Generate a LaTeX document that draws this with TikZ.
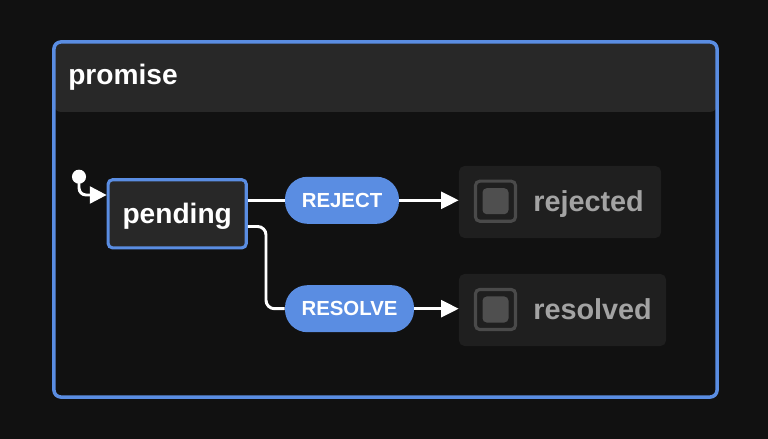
\documentclass[tikz,border=0pt]{standalone}
\usepackage{fontspec}
\setmainfont{Liberation Sans}
\usetikzlibrary{arrows.meta}
\definecolor{bgdark}{HTML}{111111}
\definecolor{xblue}{HTML}{5A8DE2}
\definecolor{hdrgray}{HTML}{282828}
\definecolor{stategray}{HTML}{1F1F1F}
\definecolor{icongray}{HTML}{4A4A4A}
\definecolor{iconfill}{HTML}{4F4F4F}
\definecolor{textgray}{HTML}{A3A3A3}

\begin{document}
\begin{tikzpicture}[x=0.025cm,y=-0.025cm,
  machine/.style={draw=xblue,line width=2.5pt,rounded corners=5pt,fill=bgdark,
    minimum width=16.575cm,minimum height=8.875cm,inner sep=0pt,
    path picture={\fill[hdrgray] (path picture bounding box.north west) rectangle ([yshift=-1.75cm]path picture bounding box.north east);}},
  title/.style={font=\fontsize{20}{24}\selectfont\bfseries,text=white,anchor=base west,inner sep=0pt},
  active/.style={draw=xblue,line width=2.2pt,fill=hdrgray,rounded corners=3pt,
    minimum width=3.45cm,minimum height=1.7cm,inner sep=0pt,text depth=0pt,
    font=\fontsize{20}{24}\selectfont\bfseries,text=white},
  event/.style={fill=xblue,rounded corners=16pt,minimum height=1.175cm,inner sep=0pt,
    font=\fontsize{14.5}{17}\selectfont\bfseries,text=white},
  final/.style={fill=stategray,rounded corners=4pt,minimum height=1.8cm,inner sep=0pt},
  finalicon/.style={draw=icongray,line width=2.2pt,rounded corners=3pt,minimum size=1.0cm,inner sep=0pt},
  finalcore/.style={fill=iconfill,rounded corners=3pt,minimum size=0.65cm,inner sep=0pt},
  finaltext/.style={font=\fontsize{20.5}{24}\selectfont\bfseries,text=textgray,anchor=base west,inner sep=0pt},
  initdot/.style={circle,fill=white,minimum size=10pt,inner sep=0pt},
  trans/.style={draw=white,line width=2.1pt},
  tip/.style={-{Triangle[length=12.5pt,width=12pt]}}]

\useasboundingbox (0,0) rectangle (768,439);
\fill[bgdark] (0,0) rectangle (768,439);

% machine and its header
\node[machine] (promise) at (385.5,219.5) {};
\node[title] (promisetitle) at (68,85) {promise};

% states
\node[active] (pending) at (177.2,213.8) {pending};
\node[final,minimum width=5.05cm] (rejected) at (560,202) {};
\node[final,minimum width=5.175cm] (resolved) at (562.5,310) {};
\node[finalicon] (rejectedicon) at (495.5,201.2) {};
\node[finalcore] at (rejectedicon) {};
\node[finaltext] (rejectedlabel) at (533,211.7) {rejected};
\node[finalicon] (resolvedicon) at (495.5,309.5) {};
\node[finalcore] at (resolvedicon) {};
\node[finaltext] (resolvedlabel) at (533,319.3) {resolved};

% events
\node[event,minimum width=2.85cm] (reject) at (342,200.3) {REJECT};
\node[event,minimum width=3.225cm] (resolve) at (349.5,308.7) {RESOLVE};

% initial transition
\node[initdot] (init) at (79,176.7) {};
\draw[trans,-{Triangle[length=12pt,width=12pt]},rounded corners=5pt] (init.center) |- (pending.west |- 0,195);

% transitions
\draw[trans] (pending.east |- reject.west) -- (reject.west);
\draw[trans,tip] (reject.east) -- (rejected.west |- reject.east);
\coordinate (bend) at (266,308.7);
\draw[trans,rounded corners=6pt] (pending.east |- 0,226.5) -| (bend) -- (resolve.west);
\draw[trans,tip] (resolve.east) -- (resolved.west |- resolve.east);

\end{tikzpicture}
\end{document}
